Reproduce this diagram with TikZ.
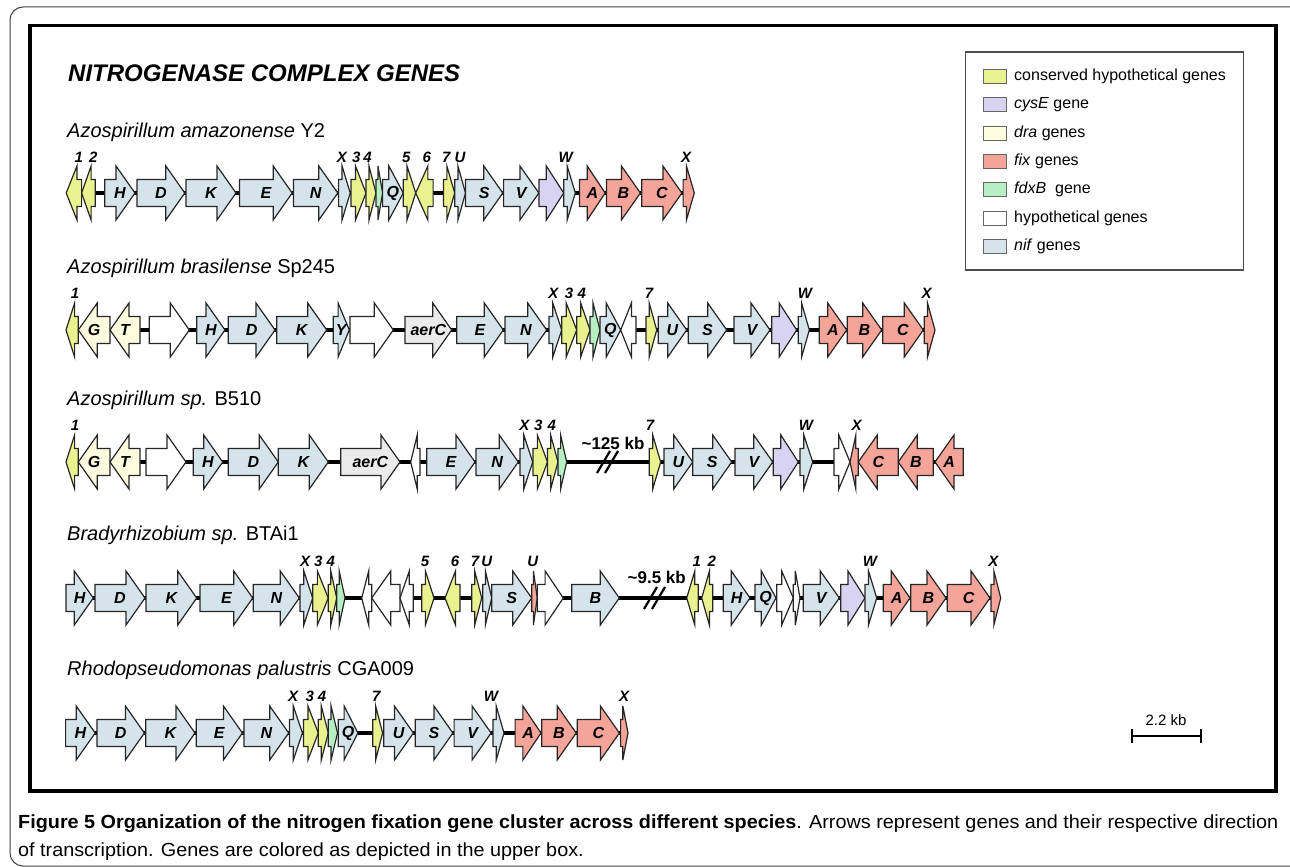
\documentclass[tikz,border=0pt]{standalone}
\usepackage{fontspec}
\usepackage{graphicx}
\setmainfont{Liberation Sans}
\definecolor{nifc}{HTML}{D5E3EA}
\definecolor{conc}{HTML}{E9F28E}
\definecolor{cysc}{HTML}{D9D3F2}
\definecolor{drac}{HTML}{FEFBDF}
\definecolor{fixc}{HTML}{F4A498}
\definecolor{fdxc}{HTML}{B6F0C2}
\definecolor{aerc}{HTML}{EBEBEB}
\newcounter{nd}
\newsavebox{\capA}
\newsavebox{\capB}
\tikzset{
 genestyle/.style={draw=black!85, line width=1.2pt, line join=miter},
 genetext/.style={font=\fontsize{16}{16}\selectfont\bfseries\itshape, inner sep=0pt},
 labtext/.style={font=\fontsize{15}{15}\selectfont\bfseries\itshape, inner sep=0pt},
 spec/.style={font=\fontsize{20}{20}\selectfont, inner sep=0pt, anchor=base west},
 backbone/.style={line width=4pt, black},
 breakmark/.style={line width=2.2pt, black},
 legtext/.style={font=\fontsize{16}{16}\selectfont, inner sep=0pt, anchor=west},
 swatch/.style={draw=black!60, line width=0.9pt},
 kbtext/.style={font=\fontsize{17}{17}\selectfont\bfseries, inner sep=0pt},
}
% #1 row y, #2 x0, #3 x1, #4 dir (1 right, 0 left), #5 fill, #6 text
\newcommand{\gn}[6]{%
  \pgfmathsetmacro{\gL}{#3-#2}%
  \pgfmathsetmacro{\gH}{min(19,0.7*\gL)}%
  \ifnum#4=1
    \pgfmathsetmacro{\gB}{#3-\gH}%
    \draw[genestyle,fill=#5] (#2,#1-13.5) -- (\gB,#1-13.5) -- (\gB,#1-27) -- (#3,#1) -- (\gB,#1+27) -- (\gB,#1+13.5) -- (#2,#1+13.5) -- cycle;
  \else
    \pgfmathsetmacro{\gB}{#2+\gH}%
    \draw[genestyle,fill=#5] (#3,#1-13.5) -- (\gB,#1-13.5) -- (\gB,#1-27) -- (#2,#1) -- (\gB,#1+27) -- (\gB,#1+13.5) -- (#3,#1+13.5) -- cycle;
  \fi
  \stepcounter{nd}%
  \node[genetext] (g\arabic{nd}) at ({(#2+#3)/2},#1) {#6};%
}
% #1 y, #2 x, #3 text
\newcommand{\lab}[3]{\stepcounter{nd}\node[labtext] (l\arabic{nd}) at (#2,#1) {#3};}
\begin{document}
\sbox{\capA}{\fontsize{19}{19}\selectfont\textbf{Figure 5 Organization of the nitrogen fixation gene cluster across different species}. Arrows represent genes and their respective direction}%
\sbox{\capB}{\fontsize{19}{19}\selectfont of transcription. Genes are colored as depicted in the upper box.}%
\begin{tikzpicture}[x=1pt,y=-1pt]
\useasboundingbox (0,0) rectangle (1290,867);
\fill[white] (0,0) rectangle (1290,867);
% frames
\draw[rounded corners=13pt, line width=1pt, black!75] (10,7) rectangle (1312,866);
\draw[line width=3.5pt] (30,25.5) rectangle (1276,791);
% title
\node[inner sep=0pt, anchor=base west, font=\fontsize{24}{24}\selectfont\bfseries\itshape] (title) at (68,81.5) {NITROGENASE COMPLEX GENES};
% species
\node[spec] (sp1) at (67,137) {\textit{Azospirillum amazonense} Y2};
\node[spec] (sp2) at (67,273) {\textit{Azospirillum brasilense} Sp245};
\node[spec] (sp3) at (67,405) {\textit{Azospirillum sp.} B510};
\node[spec] (sp4) at (67,540) {\textit{Bradyrhizobium sp.} BTAi1};
\node[spec] (sp5) at (67,675) {\textit{Rhodopseudomonas palustris} CGA009};
% backbones
\draw[backbone] (66,193) -- (694,193);
\draw[backbone] (66,330) -- (935,330);
\draw[backbone] (66,462) -- (963,462);
\draw[backbone] (66,598) -- (1000,598);
\draw[backbone] (66,733) -- (628,733);
% ---------- row 1
\gn{193}{66.2}{81.6}{0}{conc}{}
\gn{193}{81.6}{95.2}{0}{conc}{}
\gn{193}{104.8}{135}{1}{nifc}{H}
\gn{193}{137}{184.8}{1}{nifc}{D}
\gn{193}{186}{236}{1}{nifc}{K}
\gn{193}{239.5}{292.2}{1}{nifc}{E}
\gn{193}{293.4}{337.8}{1}{nifc}{N}
\gn{193}{338.6}{350.2}{1}{nifc}{}
\gn{193}{351}{366}{1}{conc}{}
\gn{193}{366}{376}{1}{conc}{}
\gn{193}{376}{382.6}{1}{fdxc}{}
\gn{193}{382.6}{403.3}{1}{nifc}{Q}
\gn{193}{403.3}{415.7}{1}{conc}{}
\gn{193}{415.7}{433.1}{0}{conc}{}
\gn{193}{443.5}{454.7}{1}{conc}{}
\gn{193}{454.7}{465.5}{1}{nifc}{}
\gn{193}{465.5}{502.8}{1}{nifc}{S}
\gn{193}{503.6}{538.9}{1}{nifc}{V}
\gn{193}{538.9}{563.7}{1}{cysc}{}
\gn{193}{563.7}{575.3}{1}{nifc}{}
\gn{193}{579.5}{605.2}{1}{fixc}{A}
\gn{193}{606.4}{640.4}{1}{fixc}{B}
\gn{193}{641.7}{681.9}{1}{fixc}{C}
\gn{193}{683.1}{694.3}{1}{fixc}{}
\lab{157}{78.7}{1}\lab{157}{93.2}{2}\lab{157}{341.9}{X}\lab{157}{356.4}{3}\lab{157}{367.6}{4}
\lab{157}{406.2}{5}\lab{157}{426.9}{6}\lab{157}{446.4}{7}\lab{157}{460.1}{U}\lab{157}{565.8}{W}\lab{157}{686}{X}
% ---------- row 2
\gn{330}{66}{78.3}{0}{conc}{}
\gn{330}{78.3}{110}{0}{drac}{G}
\gn{330}{110}{140}{0}{drac}{T}
\gn{330}{149.3}{189.3}{1}{white}{}
\gn{330}{196.7}{225}{1}{nifc}{H}
\gn{330}{228.3}{275}{1}{nifc}{D}
\gn{330}{276.7}{326.7}{1}{nifc}{K}
\gn{330}{333.3}{349.3}{1}{nifc}{Y}
\gn{330}{350}{393.3}{1}{white}{}
\gn{330}{405}{451.7}{1}{aerc}{aerC}
\gn{330}{456.7}{503.3}{1}{nifc}{E}
\gn{330}{505}{546.7}{1}{nifc}{N}
\gn{330}{549}{561.7}{1}{nifc}{}
\gn{330}{561.7}{576.7}{1}{conc}{}
\gn{330}{576.7}{590}{1}{conc}{}
\gn{330}{590}{600}{1}{fdxc}{}
\gn{330}{600}{620.7}{1}{nifc}{Q}
\gn{330}{620.7}{636}{0}{white}{}
\gn{330}{646}{656.7}{1}{conc}{}
\gn{330}{658.3}{686.7}{1}{nifc}{U}
\gn{330}{688.3}{726.7}{1}{nifc}{S}
\gn{330}{734}{770}{1}{nifc}{V}
\gn{330}{771.7}{796.7}{1}{cysc}{}
\gn{330}{798.3}{809.3}{1}{nifc}{}
\gn{330}{819.3}{846.7}{1}{fixc}{A}
\gn{330}{847.3}{881.7}{1}{fixc}{B}
\gn{330}{882.7}{923.3}{1}{fixc}{C}
\gn{330}{924.3}{935}{1}{fixc}{}
\lab{293}{75}{1}\lab{293}{553.3}{X}\lab{293}{569}{3}\lab{293}{581.7}{4}\lab{293}{649}{7}\lab{293}{805}{W}\lab{293}{926.7}{X}
% ---------- row 3
\gn{462}{66}{78.3}{0}{conc}{}
\gn{462}{78.3}{110}{0}{drac}{G}
\gn{462}{110}{140}{0}{drac}{T}
\gn{462}{146}{186}{1}{white}{}
\gn{462}{193.3}{222.7}{1}{nifc}{H}
\gn{462}{228.3}{278.3}{1}{nifc}{D}
\gn{462}{278.3}{328.3}{1}{nifc}{K}
\gn{462}{340.7}{400}{1}{aerc}{aerC}
\gn{462}{410.7}{420}{0}{white}{}
\gn{462}{426.7}{475}{1}{nifc}{E}
\gn{462}{476}{518.3}{1}{nifc}{N}
\gn{462}{520}{532.7}{1}{nifc}{}
\gn{462}{533}{547.5}{1}{conc}{}
\gn{462}{547.5}{558}{1}{conc}{}
\gn{462}{558}{566.7}{1}{fdxc}{}
\gn{462}{649.3}{660.7}{1}{conc}{}
\gn{462}{664}{692.7}{1}{nifc}{U}
\gn{462}{692.7}{731.7}{1}{nifc}{S}
\gn{462}{735}{772.7}{1}{nifc}{V}
\gn{462}{773.3}{798.3}{1}{cysc}{}
\gn{462}{800}{812.7}{1}{nifc}{}
\gn{462}{834}{850}{1}{white}{}
\gn{462}{850}{858.3}{0}{fixc}{}
\gn{462}{858.3}{898.3}{0}{fixc}{C}
\gn{462}{898.3}{933.3}{0}{fixc}{B}
\gn{462}{935}{963.3}{0}{fixc}{A}
\lab{425}{75}{1}\lab{425}{524.3}{X}\lab{425}{538.3}{3}\lab{425}{551.7}{4}\lab{425}{650}{7}\lab{425}{806}{W}\lab{425}{856.7}{X}
\node[kbtext] (kb1) at (613,443) {\textasciitilde125 kb};
\draw[breakmark] (597,473) -- (610,451);
\draw[breakmark] (605,473) -- (618,451);
% ---------- row 4
\gn{598}{66}{93.3}{1}{nifc}{H}
\gn{598}{95}{145}{1}{nifc}{D}
\gn{598}{146}{196.7}{1}{nifc}{K}
\gn{598}{200}{252.7}{1}{nifc}{E}
\gn{598}{253.3}{299.3}{1}{nifc}{N}
\gn{598}{300}{312.7}{1}{nifc}{}
\gn{598}{312.7}{328.3}{1}{conc}{}
\gn{598}{328.3}{336.7}{1}{conc}{}
\gn{598}{336.7}{345}{1}{fdxc}{}
\gn{598}{361.7}{371.7}{0}{white}{}
\gn{598}{371.7}{400}{0}{white}{}
\gn{598}{400}{413.3}{0}{white}{}
\gn{598}{421.7}{434}{1}{conc}{}
\gn{598}{445}{460}{0}{conc}{}
\gn{598}{471.7}{481.7}{1}{conc}{}
\gn{598}{482.7}{491.7}{1}{nifc}{}
\gn{598}{491.7}{531.7}{1}{nifc}{S}
\gn{598}{531.7}{537.3}{1}{fixc}{}
\gn{598}{537.3}{563.3}{1}{white}{}
\gn{598}{571.7}{619.3}{1}{nifc}{B}
\gn{598}{686.7}{698.3}{0}{conc}{}
\gn{598}{701.7}{712.7}{0}{conc}{}
\gn{598}{723.3}{750}{1}{nifc}{H}
\gn{598}{755}{776}{1}{nifc}{Q}
\gn{598}{776.7}{793.3}{1}{white}{}
\gn{598}{793.3}{800}{1}{white}{}
\gn{598}{803.3}{839.3}{1}{nifc}{V}
\gn{598}{840.7}{865}{1}{cysc}{}
\gn{598}{865}{876.7}{1}{nifc}{}
\gn{598}{883.3}{910}{1}{fixc}{A}
\gn{598}{910.7}{946}{1}{fixc}{B}
\gn{598}{947.3}{990}{1}{fixc}{C}
\gn{598}{991}{1000.7}{1}{fixc}{}
\lab{561}{305}{X}\lab{561}{318.3}{3}\lab{561}{330.7}{4}\lab{561}{425}{5}\lab{561}{455}{6}\lab{561}{475}{7}\lab{561}{486.7}{U}
\lab{561}{532.7}{U}\lab{561}{696.7}{1}\lab{561}{711.7}{2}\lab{561}{870}{W}\lab{561}{993.3}{X}
\node[kbtext] (kb2) at (656.7,577) {\textasciitilde9.5 kb};
\draw[breakmark] (644,609) -- (657,587);
\draw[breakmark] (652,609) -- (665,587);
% ---------- row 5
\gn{733}{65.6}{95.2}{1}{nifc}{H}
\gn{733}{97}{144.4}{1}{nifc}{D}
\gn{733}{145.8}{195}{1}{nifc}{K}
\gn{733}{196.2}{242.4}{1}{nifc}{E}
\gn{733}{243.9}{288.7}{1}{nifc}{N}
\gn{733}{289.4}{302.4}{1}{nifc}{}
\gn{733}{303.5}{318.3}{1}{conc}{}
\gn{733}{318.3}{328.3}{1}{conc}{}
\gn{733}{328.3}{337.5}{1}{fdxc}{}
\gn{733}{338.2}{357.9}{1}{nifc}{Q}
\gn{733}{372.7}{382.6}{1}{conc}{}
\gn{733}{383.8}{413.4}{1}{nifc}{U}
\gn{733}{415.2}{452.9}{1}{nifc}{S}
\gn{733}{454.1}{491.1}{1}{nifc}{V}
\gn{733}{492.9}{504}{1}{nifc}{}
\gn{733}{515.1}{541}{1}{fixc}{A}
\gn{733}{541.7}{576.2}{1}{fixc}{B}
\gn{733}{577.3}{619.4}{1}{fixc}{C}
\gn{733}{620.6}{628}{1}{fixc}{}
\lab{696}{293.1}{X}\lab{696}{309.8}{3}\lab{696}{322}{4}\lab{696}{376.4}{7}\lab{696}{491}{W}\lab{696}{624}{X}
% ---------- legend
\draw[line width=1.1pt, black!70] (965.5,52) rectangle (1243.5,270);
\draw[swatch, fill=conc] (983,69) rectangle (1006,83);
\node[legtext] (t1) at (1014,76) {conserved hypothetical genes};
\draw[swatch, fill=cysc] (983,97.5) rectangle (1006,111.5);
\node[legtext] (t2) at (1014,104.5) {\textit{cysE} gene};
\draw[swatch, fill=drac] (983,126) rectangle (1006,140);
\node[legtext] (t3) at (1014,133) {\textit{dra} genes};
\draw[swatch, fill=fixc] (983,154) rectangle (1006,168);
\node[legtext] (t4) at (1014,161) {\textit{fix} genes};
\draw[swatch, fill=fdxc] (983,182.5) rectangle (1006,196.5);
\node[legtext] (t5) at (1014,189.5) {\textit{fdxB}\ \ gene};
\draw[swatch, fill=white] (983,211) rectangle (1006,225);
\node[legtext] (t6) at (1014,218) {hypothetical genes};
\draw[swatch, fill=nifc] (983,239) rectangle (1006,253);
\node[legtext] (t7) at (1014,246) {\textit{nif} genes};
% ---------- scale bar
\node[inner sep=0pt, font=\fontsize{15}{15}\selectfont] (sc) at (1166,720) {2.2 kb};
\coordinate (sbl) at (1132,736);
\coordinate (sbr) at (1201,736);
\draw[line width=2.3pt] (sbl) -- (sbr);
\draw[line width=2.3pt] ([yshift=7pt]sbl) -- ([yshift=-7pt]sbl);
\draw[line width=2.3pt] ([yshift=7pt]sbr) -- ([yshift=-7pt]sbr);
% ---------- caption
\pgfmathsetmacro{\capfac}{1260/\the\wd\capA}
\node[inner sep=0pt, anchor=base west, text=black!90] (cap1) at (18,828) {\scalebox{\capfac}[1]{\usebox{\capA}}};
\node[inner sep=0pt, anchor=base west, text=black!90] (cap2) at (18,856) {\scalebox{\capfac}[1]{\usebox{\capB}}};
\end{tikzpicture}
\end{document}
